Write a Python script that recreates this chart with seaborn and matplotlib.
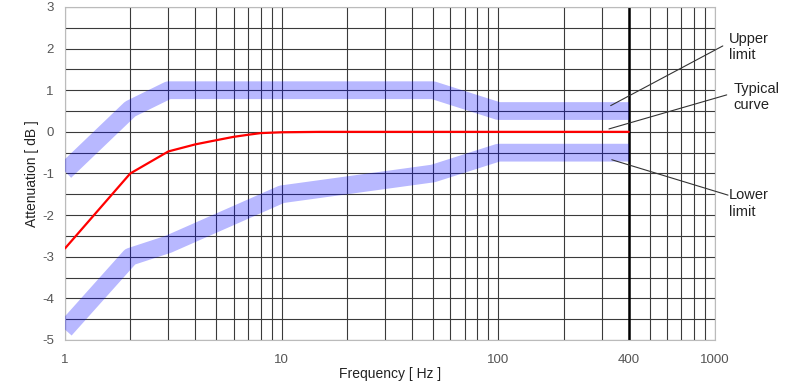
import numpy as np
import pandas as pd
import seaborn as sns
from matplotlib import pyplot as plt
from matplotlib.ticker import FixedLocator, NullFormatter

# Tolerance band and typical curve
upper_freq = [1, 2, 3, 50, 100, 400]
upper_db = [-0.95, 0.55, 1.0, 1.0, 0.5, 0.5]

lower_freq = [1, 2, 3, 10, 50, 100, 400]
lower_db = [-4.75, -3.0, -2.7, -1.5, -1.0, -0.5, -0.5]

typical_freq = [1, 2, 3, 4, 5, 6, 7, 8, 10, 15, 400]
typical_db = [-2.8, -1.0, -0.47, -0.3, -0.2, -0.12, -0.07, -0.03, -0.01, 0.0, 0.0]

x_ticks = [1, 10, 100, 400, 1000]
x_labels = ["1", "10", "100", "400", "1000"]
y_ticks = [-5, -4, -3, -2, -1, 0, 1, 2, 3]

sns.set_style("white")
plt.rcParams['font.family'] = ['Liberation Sans', 'DejaVu Sans']
plt.rcParams['axes.unicode_minus'] = False

fig = plt.figure(figsize=(8, 3.83), dpi=100)
ax = fig.add_axes([0.08125, 0.1123, 0.8125, 0.8695])

ax.set_xscale('log')
ax.set_xlim(1, 1000)
ax.set_ylim(-5, 3)

# grid: every integer of every decade, every 0.5 dB
minor_x = [m * d for d in (1, 10, 100) for m in range(2, 10) if m * d != 400]
ax.xaxis.set_major_locator(FixedLocator(x_ticks))
ax.xaxis.set_minor_locator(FixedLocator(minor_x))
ax.xaxis.set_minor_formatter(NullFormatter())
ax.set_xticklabels(x_labels)
ax.set_yticks(y_ticks)
ax.yaxis.set_minor_locator(FixedLocator(np.arange(-4.5, 3, 1.0)))
ax.grid(True, which='both', color='#3a3a3a', linewidth=0.8)
ax.set_axisbelow(True)
ax.tick_params(which='both', length=0, labelsize=9.5, labelcolor='#555555')
ax.tick_params(axis='x', pad=10)
ax.tick_params(axis='y', pad=8)

for s in ax.spines.values():
    s.set_color('#bbbbbb')
    s.set_linewidth(0.8)

# the 400 Hz line is drawn heavier and crosses the bottom axis
ax.axvline(400, color='black', linewidth=1.8, zorder=1)
t400 = ax.xaxis.get_major_ticks()[x_ticks.index(400)]
t400.tick1line.set_markersize(6)
t400.tick1line.set_markeredgewidth(1.8)
t400.tick1line.set_color('black')

band = dict(color='blue', alpha=0.28, linewidth=12.8,
            solid_capstyle='butt', solid_joinstyle='round', zorder=3)
sns.lineplot(x=upper_freq, y=upper_db, ax=ax, sort=False, **band)
sns.lineplot(x=lower_freq, y=lower_db, ax=ax, sort=False, **band)
sns.lineplot(x=typical_freq, y=typical_db, ax=ax, sort=False,
             color='red', linewidth=1.6, zorder=4)

ax.set_xlabel('Frequency [ Hz ]', fontsize=10, color='#222222', labelpad=1)
ax.set_ylabel('Attenuation [ dB ]', fontsize=10, color='#222222', labelpad=2)

# callouts on the right
callouts = [
    ('Upper\nlimit', (330, 0.63), (1.012, 0.883), (1.0215, 0.88)),
    ('Typical\ncurve', (324, 0.07), (1.018, 0.736), (1.028, 0.73)),
    ('Lower\nlimit', (334, -0.67), (1.020, 0.435), (1.0215, 0.41)),
]
for text, xy, end, pos in callouts:
    ax.annotate('', xy=xy, xycoords='data', xytext=end, textcoords='axes fraction',
                annotation_clip=False,
                arrowprops=dict(arrowstyle='-', color='#333333', lw=0.8,
                                shrinkA=0, shrinkB=0))
    ax.text(pos[0], pos[1], text, transform=ax.transAxes, ha='left', va='center',
            fontsize=10.5, color='#222222', linespacing=1.2)

fig.savefig('out.png', dpi=100)
